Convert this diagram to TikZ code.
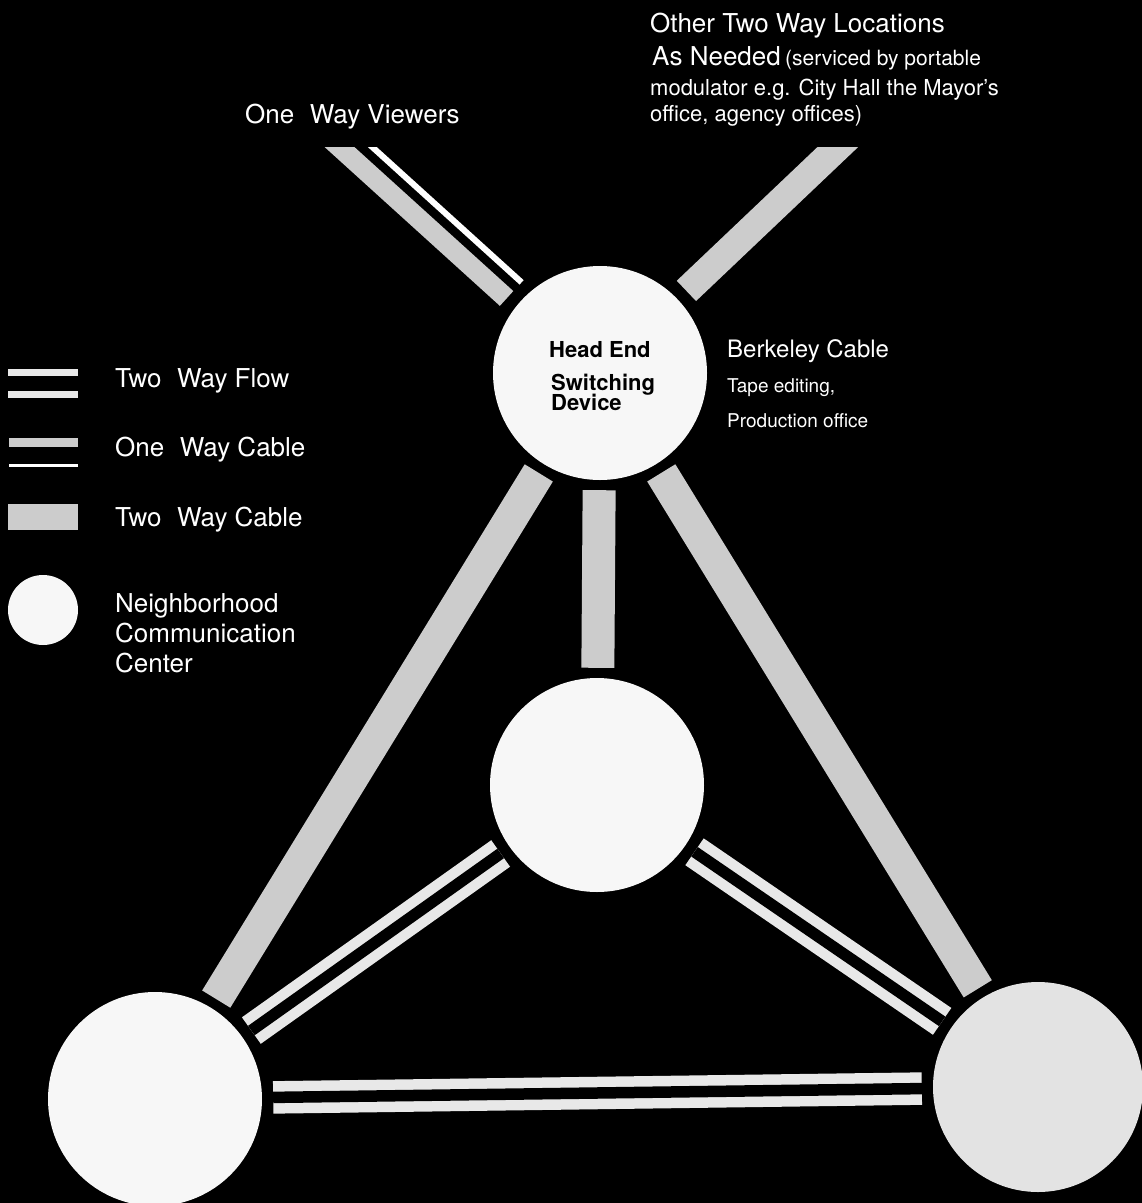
\documentclass[tikz,border=0pt]{standalone}
\usepackage{fontspec}
\setmainfont{TeX Gyre Heros}
\definecolor{cabG}{RGB}{204,204,204}
\definecolor{flowG}{RGB}{232,232,232}
\definecolor{hubW}{RGB}{247,247,247}

\begin{document}
\begin{tikzpicture}[x=1pt,y=-1pt,
  hub/.style={circle,fill=hubW,inner sep=0pt,minimum size=#1},
  cable/.style={draw=cabG,line width=#1,shorten <=10pt,shorten >=10pt},
  flow/.style={draw=flowG,double=black,line width=10.5pt,double distance=11.5pt,shorten <=11pt,shorten >=11pt},
  txt/.style={text=white,anchor=base west,inner sep=0pt,font=\fontsize{26}{30}\selectfont},
  smalltxt/.style={txt,font=\fontsize{22}{26}\selectfont}]
\path[fill=black,use as bounding box] (0,0) rectangle (1142,1203);
% switching centres
\node[hub=214pt] (head) at (600,373) {};
\node[hub=214pt] (mid) at (597,785) {};
\node[hub=214pt] (left) at (155,1099) {};
\node[hub=210pt,fill=hubW!92!black] (right) at (1038,1087) {};
\coordinate (nw) at (333,131);
\coordinate (ne) at (861,125);
% trunk cables from the head end
\draw[cable=33pt] (head) -- (mid);
\draw[cable=33pt] (head) -- (left);
\draw[cable=33pt] (head) -- (right);
% feeds running off the top
\begin{scope}
\clip (0,147) rectangle (1142,1203);
\draw[cable=28pt,shorten <=12pt,shorten >=0pt] (head) -- (ne);
\draw[cable=20pt,shorten <=12pt,shorten >=0pt,transform canvas={shift={(-5.1,5.5)}}] (head) -- (nw);
\draw[white,line width=6pt,shorten <=12pt,transform canvas={shift={(9.9,-10.6)}}] (head) -- (nw);
\end{scope}
% two way flow between neighbourhoods
\draw[flow] (mid) -- (left);
\draw[flow] (mid) -- (right);
\draw[flow] (left) -- (right);
% head end text
\node[txt,text=black,font=\fontsize{22}{24}\selectfont\bfseries] (he1) at (549,357) {Head End};
\node[txt,text=black,font=\fontsize{22}{24}\selectfont\bfseries] (he2) at (551,390) {Switching};
\node[txt,text=black,font=\fontsize{22}{24}\selectfont\bfseries] (he3) at (551,410) {Device};
% labels round the head end
\node[txt] (view) at (245,123) {One\hspace{.6em}Way Viewers};
\node[txt] (loc1) at (650,32) {Other Two Way Locations};
\node[txt] (loc2) at (652,65) {As Needed\,{\fontsize{21}{26}\selectfont(serviced by portable}};
\node[smalltxt] (loc3) at (650,95) {modulator e.g. City Hall the Mayor's};
\node[smalltxt] (loc4) at (650,121) {office, agency offices)};
\node[txt,font=\fontsize{24}{28}\selectfont] (berk) at (727,357) {Berkeley Cable};
\node[smalltxt,font=\fontsize{19}{22}\selectfont] (tape) at (727,392) {Tape editing,};
\node[smalltxt,font=\fontsize{19}{22}\selectfont] (prod) at (727,427) {Production office};
% key
\fill[flowG] (8,369) rectangle (78,376);
\fill[flowG] (8,391) rectangle (78,398);
\fill[cabG] (9,438) rectangle (78,447);
\fill[white] (9,464) rectangle (78,467);
\fill[cabG] (8,504) rectangle (78,530);
\node[hub=70pt] (keyhub) at (43,610) {};
\node[txt] (k1) at (115,387) {Two\hspace{.6em}Way Flow};
\node[txt] (k2) at (115,456) {One\hspace{.6em}Way Cable};
\node[txt] (k3) at (115,526) {Two\hspace{.6em}Way Cable};
\node[txt] (k4) at (115,612) {Neighborhood};
\node[txt] (k5) at (115,642) {Communication};
\node[txt] (k6) at (115,672) {Center};
\end{tikzpicture}
\end{document}
